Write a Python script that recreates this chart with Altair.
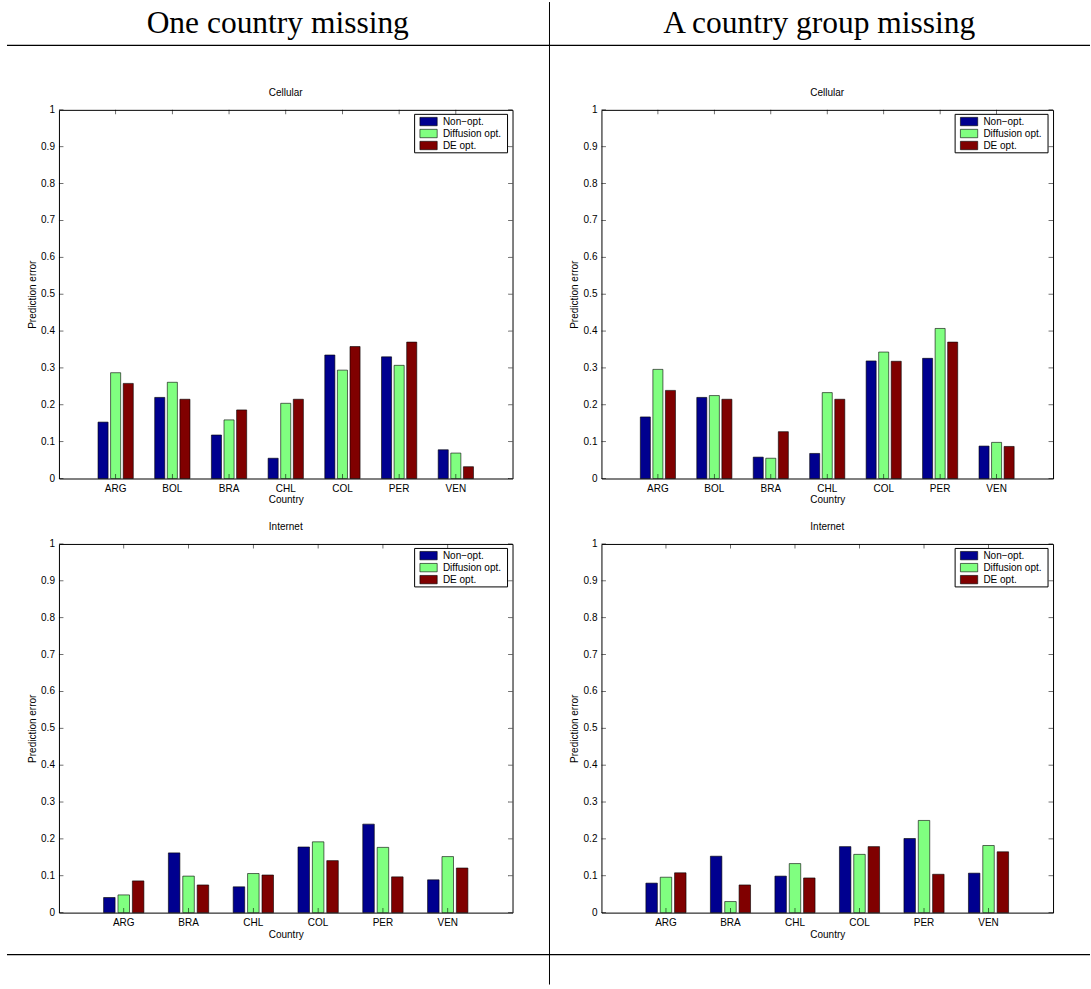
import altair as alt
import pandas as pd

# ---- data -------------------------------------------------------------
series = ["Non\u2212opt.", "Diffusion opt.", "DE opt."]
series_colors = ["#00008F", "#80FF80", "#800000"]

cell_countries = ["ARG", "BOL", "BRA", "CHL", "COL", "PER", "VEN"]
net_countries = ["ARG", "BRA", "CHL", "COL", "PER", "VEN"]

# One country missing - Cellular
one_cell_nonopt = [0.153, 0.220, 0.118, 0.055, 0.335, 0.330, 0.078]
one_cell_diff = [0.287, 0.261, 0.159, 0.204, 0.294, 0.307, 0.069]
one_cell_de = [0.258, 0.215, 0.186, 0.215, 0.358, 0.370, 0.032]

# A country group missing - Cellular
grp_cell_nonopt = [0.167, 0.220, 0.058, 0.068, 0.319, 0.326, 0.088]
grp_cell_diff = [0.296, 0.225, 0.055, 0.233, 0.343, 0.407, 0.098]
grp_cell_de = [0.239, 0.215, 0.127, 0.215, 0.318, 0.370, 0.087]

# One country missing - Internet
one_net_nonopt = [0.041, 0.162, 0.070, 0.178, 0.240, 0.089]
one_net_diff = [0.048, 0.099, 0.106, 0.192, 0.177, 0.152]
one_net_de = [0.086, 0.075, 0.102, 0.141, 0.097, 0.121]

# A country group missing - Internet
grp_net_nonopt = [0.080, 0.153, 0.099, 0.179, 0.201, 0.107]
grp_net_diff = [0.096, 0.030, 0.133, 0.158, 0.250, 0.182]
grp_net_de = [0.108, 0.075, 0.094, 0.179, 0.104, 0.165]

y_tick_values = [0, 0.1, 0.2, 0.3, 0.4, 0.5, 0.6, 0.7, 0.8, 0.9, 1]
y_tick_labels = ["0", "0.1", "0.2", "0.3", "0.4", "0.5", "0.6", "0.7", "0.8", "0.9", "1"]

header_left = "One country missing"
header_right = "A country group missing"

FONT = "Liberation Sans"
PANEL_H = 369


def long_table(countries, columns):
    rows = []
    for s, vals in zip(series, columns):
        for c, v in zip(countries, vals):
            rows.append({"country": c, "series": s, "value": v})
    return pd.DataFrame(rows)


def panel(title, countries, columns, width):
    df = long_table(countries, columns)
    x_scale = alt.Scale(domain=countries, paddingInner=1 / 3, paddingOuter=2 / 3)
    y_scale = alt.Scale(domain=[0, 1], nice=False)
    x_axis = alt.Axis(title="Country", labelAngle=0, labelPadding=4.5, titlePadding=2)
    y_axis = alt.Axis(title="Prediction error", labels=False, titlePadding=21.5)
    color = alt.Color("series:N", scale=alt.Scale(domain=series, range=series_colors), legend=None)

    bars = alt.Chart(df).mark_bar(stroke="black", strokeWidth=0.6).encode(
        x=alt.X("country:N", scale=x_scale, axis=x_axis),
        xOffset=alt.XOffset("series:N", scale=alt.Scale(domain=series, paddingInner=0.2, paddingOuter=0.1)),
        y=alt.Y("value:Q", scale=y_scale, axis=y_axis),
        color=color,
    )

    # inward-pointing ticks on all four sides of the box, numbers on the left
    ytick_df = pd.DataFrame({"value": y_tick_values, "label": y_tick_labels})
    xtick_df = pd.DataFrame({"country": countries})
    tick_kw = dict(size=4.5, thickness=0.8, color="black")
    t_left = alt.Chart(ytick_df).mark_tick(orient="horizontal", **tick_kw).encode(
        y=alt.Y("value:Q", scale=y_scale, axis=y_axis), x=alt.value(2.25))
    t_right = alt.Chart(ytick_df).mark_tick(orient="horizontal", **tick_kw).encode(
        y=alt.Y("value:Q", scale=y_scale, axis=y_axis), x=alt.value(width - 2.25))
    t_bottom = alt.Chart(xtick_df).mark_tick(orient="vertical", **tick_kw).encode(
        x=alt.X("country:N", scale=x_scale, axis=x_axis), y=alt.value(PANEL_H - 2.25))
    t_top = alt.Chart(xtick_df).mark_tick(orient="vertical", **tick_kw).encode(
        x=alt.X("country:N", scale=x_scale, axis=x_axis), y=alt.value(2.25))
    y_labels = alt.Chart(ytick_df).mark_text(
        align="right", baseline="middle", fontSize=10, font=FONT, color="black"
    ).encode(y=alt.Y("value:Q", scale=y_scale, axis=y_axis), x=alt.value(-4), text="label:N")

    # boxed legend in the upper-right corner
    leg_df = pd.DataFrame({"series": series, "slot": list(range(len(series)))})
    box = alt.Chart(leg_df.head(1)).mark_rect(fill="white", stroke="black", strokeWidth=1).encode(
        x=alt.value(width - 98), x2=alt.value(width - 5), y=alt.value(4.5), y2=alt.value(43))
    swatch = alt.Chart(leg_df).transform_calculate(
        ly1="11.7 + 12 * datum.slot - 4.2", ly2="11.7 + 12 * datum.slot + 4.2"
    ).mark_rect(stroke="black", strokeWidth=0.6).encode(
        x=alt.value(width - 92.7), x2=alt.value(width - 75.4),
        y=alt.Y("ly1:Q", scale=None), y2="ly2:Q", color=color)
    labels = alt.Chart(leg_df).transform_calculate(
        ly="11.7 + 12 * datum.slot"
    ).mark_text(align="left", baseline="middle", fontSize=10, font=FONT, color="black").encode(
        x=alt.value(width - 69.7), y=alt.Y("ly:Q", scale=None), text="series:N")

    return alt.layer(bars, t_left, t_right, t_bottom, t_top, y_labels, box, swatch, labels).properties(
        width=width, height=PANEL_H,
        title=alt.TitleParams(title, fontSize=10, fontWeight="normal", font=FONT, offset=7, color="black"),
        view=alt.ViewBackground(stroke="black", strokeWidth=1),
    )


def header(label, cx, extra=()):
    txt = alt.Chart(pd.DataFrame({"label": [label]})).mark_text(
        font="Liberation Serif", fontSize=31.5, align="center", baseline="alphabetic", color="black"
    ).encode(text="label:N", x=alt.value(cx), y=alt.value(31.5))
    return alt.layer(txt, *extra)


one = pd.DataFrame({"k": [0]})
# table rules framing the two columns (coordinates relative to the left header cell)
anchor = alt.Chart(one).mark_rule(color="white", strokeWidth=0.01).encode(
    x=alt.value(-58), x2=alt.value(-57), y=alt.value(0), y2=alt.value(0))
top_rule = alt.Chart(one).mark_rule(color="black", strokeWidth=1.4).encode(
    x=alt.value(-52), x2=alt.value(1032), y=alt.value(44))
bottom_rule = alt.Chart(one).mark_rule(color="black", strokeWidth=1.4).encode(
    x=alt.value(-52), x2=alt.value(1032), y=alt.value(954))
mid_rule = alt.Chart(one).mark_rule(color="black", strokeWidth=1).encode(
    x=alt.value(491), y=alt.value(0.6), y2=alt.value(984))

hdr_l = header(header_left, 219, (anchor, top_rule, bottom_rule, mid_rule)).properties(width=454, height=42.8)
hdr_r = header(header_right, 218).properties(width=452, height=42.8)

p1 = panel("Cellular", cell_countries, [one_cell_nonopt, one_cell_diff, one_cell_de], 454)
p2 = panel("Cellular", cell_countries, [grp_cell_nonopt, grp_cell_diff, grp_cell_de], 452)
p3 = panel("Internet", net_countries, [one_net_nonopt, one_net_diff, one_net_de], 454)
p4 = panel("Internet", net_countries, [grp_net_nonopt, grp_net_diff, grp_net_de], 452)

chart = alt.concat(
    hdr_l, hdr_r, p1, p2, p3, p4,
    columns=2, spacing={"row": 65.5, "column": 89}, bounds="flush",
).resolve_scale(
    x="independent", y="independent", xOffset="independent"
).properties(
    padding=0
).configure(
    font=FONT
).configure_axis(
    labelFont=FONT, titleFont=FONT, labelFontSize=10, titleFontSize=10,
    labelColor="black", titleColor="black", titleFontWeight="normal",
    grid=False, ticks=False, domain=False,
).configure_view(strokeWidth=0)

chart.save("out.html", embed_options={"renderer": "svg", "actions": False})
